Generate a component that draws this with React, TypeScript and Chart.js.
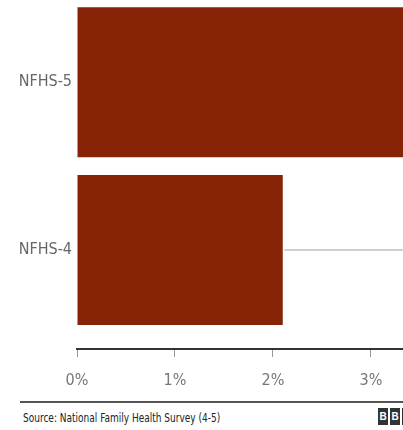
import React, { useEffect, useRef } from "react";
import { Chart, registerables } from "chart.js";

Chart.register(...registerables);

// Data
const categories = ["NFHS-4", "NFHS-5"]; // index 0 bottom, 1 top
const values = [2.1, 3.6];
const referenceStart = [2.12, null as number | null];
const referenceEnd = [3.6, null as number | null];
const xTicks = [0, 1, 2, 3];
const xTickLabels = ["0%", "1%", "2%", "3%"];
const sourceText = "Source: National Family Health Survey (4-5)";

const BAR_COLOR = "#872408";
const FONT = "'DejaVu Sans Condensed', 'Liberation Sans Narrow', 'Liberation Sans', sans-serif";

export default function App() {
  const ref = useRef<HTMLCanvasElement | null>(null);

  useEffect(() => {
    if (!ref.current) return;
    const barData = categories.map((_, i) => ({ x: values[i], y: i }));
    const refData = categories
      .map((_, i) =>
        referenceStart[i] != null && referenceEnd[i] != null
          ? { x: [referenceStart[i] as number, referenceEnd[i] as number], y: i }
          : null
      )
      .filter((d) => d !== null);

    const chart = new Chart(ref.current, {
      type: "bar",
      data: {
        datasets: [
          {
            data: refData as any,
            backgroundColor: "#cfcfcf",
            grouped: false,
            maxBarThickness: 1.5,
            categoryPercentage: 1,
            barPercentage: 1,
            order: 2,
          } as any,
          {
            data: barData as any,
            backgroundColor: BAR_COLOR,
            borderWidth: 0,
            grouped: false,
            categoryPercentage: 1,
            barPercentage: 0.895,
            order: 1,
          } as any,
        ],
      },
      options: {
        indexAxis: "y",
        animation: false,
        responsive: false,
        maintainAspectRatio: false,
        layout: { padding: 0 },
        plugins: {
          legend: { display: false },
          tooltip: { enabled: false },
        },
        scales: {
          x: {
            type: "linear",
            min: 0,
            max: 3.327,
            offset: false,
            grid: {
              drawOnChartArea: false,
              drawTicks: true,
              tickLength: 8,
              color: "#999",
              lineWidth: 1,
            },
            border: { display: true, color: "#333", width: 2 },
            ticks: {
              stepSize: 1,
              includeBounds: false,
              padding: 14,
              color: "#777",
              font: { family: FONT, size: 16 },
              callback: (v: any) => {
                const i = xTicks.indexOf(Number(v));
                return i >= 0 ? xTickLabels[i] : "";
              },
            },
            afterFit: (s: any) => {
              s.height = 51;
              s.paddingLeft = 0;
              s.paddingRight = 0;
            },
          },
          y: {
            type: "linear",
            min: -0.59,
            max: 1.49,
            offset: false,
            grid: { display: false, drawTicks: false },
            border: { display: false },
            afterBuildTicks: (s: any) => {
              s.ticks = categories.map((_, i) => ({ value: i }));
            },
            ticks: {
              padding: 5,
              color: "#666",
              font: { family: FONT, size: 16 },
              callback: (v: any) => categories[Number(v)] ?? "",
            },
            afterFit: (s: any) => {
              s.width = 77;
              s.paddingTop = 0;
              s.paddingBottom = 0;
            },
          },
        },
      },
    });
    return () => chart.destroy();
  }, []);

  return (
    <div
      style={{
        position: "absolute",
        left: 0,
        top: 0,
        width: 403,
        height: 430,
        overflow: "hidden",
        background: "#fff",
      }}
    >
      <canvas ref={ref} width={403} height={400} style={{ display: "block" }} />
      <div
        style={{
          position: "absolute",
          left: 20,
          top: 401,
          width: 383,
          borderTop: "2px solid #555",
        }}
      />
      <div
        style={{
          position: "absolute",
          left: 23,
          top: 410,
          fontFamily: FONT,
          fontSize: 13,
          color: "#222",
          whiteSpace: "nowrap",
          transform: "scaleX(0.77)",
          transformOrigin: "left top",
        }}
      >
        {sourceText}
      </div>
      <div style={{ position: "absolute", left: 378, top: 408, display: "flex", gap: 2 }}>
        {["B", "B", "C"].map((l, i) => (
          <div
            key={i}
            style={{
              width: 10,
              height: 17,
              background: "#333",
              color: "#fff",
              fontFamily: "'Liberation Sans', sans-serif",
              fontWeight: "bold",
              fontSize: 10,
              lineHeight: "17px",
              textAlign: "center",
            }}
          >
            {l}
          </div>
        ))}
      </div>
    </div>
  );
}
